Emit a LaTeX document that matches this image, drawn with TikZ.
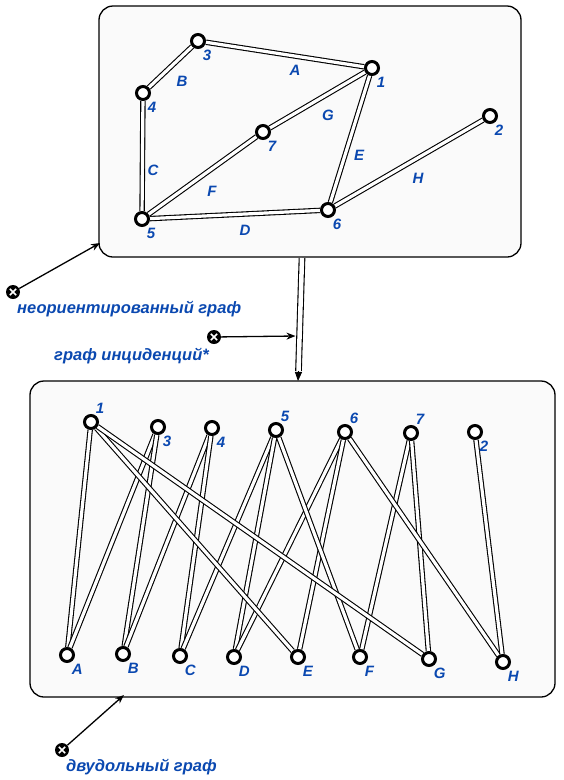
\documentclass[tikz,border=0pt]{standalone}
\usepackage{fontspec}
\setmainfont{Liberation Sans}
\usetikzlibrary{arrows.meta}
\definecolor{lblue}{HTML}{0A48B0}
\pgfdeclarelayer{bg}
\pgfdeclarelayer{edges}
\pgfsetlayers{bg,edges,main}
\tikzset{
    frame/.style = {draw, line width=1.3pt, rounded corners=14pt, fill=gray!4},
    vert/.style = {circle, draw, line width=3pt, fill=white, minimum size=13pt, inner sep=0pt},
    lbl/.style = {text=lblue, font=\fontsize{15}{17}\selectfont\bfseries\itshape, inner sep=0pt},
    vert-se/.style = {vert, label={[lbl, anchor=north west, xshift=-1pt, yshift=-3pt]south east:#1}},
    vert-ne/.style = {vert, label={[lbl, anchor=south west, xshift=-1pt, yshift=3pt]north east:#1}},
    link/.style = {line width=1.1pt, double=white, double distance=3.2pt},
    bar/.style = {line width=1.1pt, double=white, double distance=4.5pt},
    bartip/.style = {line width=0.8pt, -{Triangle[length=9pt,width=7pt]}},
    xdot/.style = {circle, fill=black, minimum size=14pt, inner sep=0pt,
        path picture={\draw[white, line width=1.5pt]
            ([shift={(-3.2pt,-3.2pt)}]path picture bounding box.center) -- ([shift={(3.2pt,3.2pt)}]path picture bounding box.center)
            ([shift={(-3.2pt,3.2pt)}]path picture bounding box.center) -- ([shift={(3.2pt,-3.2pt)}]path picture bounding box.center);}},
    pointer/.style = {line width=1.3pt, -{Stealth[length=9pt,width=7pt]}},
    caption/.style = {lbl, font=\fontsize{16.5}{19}\selectfont\bfseries\itshape, anchor=west},
}

\begin{document}
\begin{tikzpicture}[x=1pt, y=-1pt]
\useasboundingbox (0,0) rectangle (563,780);

% frames
\begin{pgfonlayer}{bg}
\draw[frame] (99,6) rectangle (521,257);
\draw[frame] (30,381) rectangle (555,697);
\end{pgfonlayer}

% undirected graph
\node[vert-se=3] (t3) at (198,41) {};
\node[vert-se=1] (t1) at (372,68) {};
\node[vert-se=4] (t4) at (143,93) {};
\node[vert-se=7] (t7) at (263,132) {};
\node[vert-se=2] (t2) at (490,116) {};
\node[vert-se=5] (t5) at (142,219) {};
\node[vert-se=6] (t6) at (328,210) {};

\begin{pgfonlayer}{edges}
\draw[link] (t3) -- (t1);
\draw[link] (t3) -- (t4);
\draw[link] (t4) -- (t5);
\draw[link] (t5) -- (t6);
\draw[link] (t1) -- (t6);
\draw[link] (t5) -- (t7);
\draw[link] (t7) -- (t1);
\draw[link] (t6) -- (t2);
\end{pgfonlayer}

\node[lbl] (eA) at (295,70) {A};
\node[lbl] (eB) at (182,81) {B};
\node[lbl] (eC) at (153,170) {C};
\node[lbl] (eD) at (245,230) {D};
\node[lbl] (eE) at (359,155) {E};
\node[lbl] (eF) at (212,191) {F};
\node[lbl] (eG) at (328,115) {G};
\node[lbl] (eH) at (418,178) {H};

% bipartite graph
\node[vert-ne=1] (b1) at (91,422) {};
\node[vert-se=3] (b3) at (158,427) {};
\node[vert-se=4] (b4) at (212,428) {};
\node[vert-ne=5] (b5) at (276,430) {};
\node[vert-ne=6] (b6) at (345,432) {};
\node[vert-ne=7] (b7) at (411,433) {};
\node[vert-se=2] (b2) at (475,432) {};

\node[vert-se=A] (bA) at (67,655) {};
\node[vert-se=B] (bB) at (123,654) {};
\node[vert-se=C] (bC) at (180,656) {};
\node[vert-se=D] (bD) at (234,657) {};
\node[vert-se=E] (bE) at (298,657) {};
\node[vert-se=F] (bF) at (360,657) {};
\node[vert-se=G] (bG) at (429,659) {};
\node[vert-se=H] (bH) at (503,662) {};

\begin{pgfonlayer}{edges}
\foreach \e/\u/\v in {A/1/3, B/3/4, C/4/5, D/5/6, E/1/6, F/5/7, G/7/1, H/6/2} {
    \draw[link] (b\e) -- (b\u);
    \draw[link] (b\e) -- (b\v);
}
\end{pgfonlayer}

% transition arrow
\coordinate (a1) at (302,258);
\coordinate (a2) at (298.5,371);
\coordinate (a3) at (298,381);
\draw[bar] (a1) -- (a2);
\draw[bartip] (a2) -- (a3);

% captions
\node[xdot] (m1) at (13,292) {};
\coordinate (c1) at (100,243);
\draw[pointer] (m1) -- (c1);
\node[caption] (n1) at (17,309) {неориентированный граф};

\node[xdot] (m2) at (214,337) {};
\coordinate (c2) at (295.5,336);
\draw[pointer] (m2) -- (c2);
\node[caption] (n2) at (54,356) {граф инциденций*};

\node[xdot] (m3) at (62,750) {};
\coordinate (c3) at (124,695);
\draw[pointer] (m3) -- (c3);
\node[caption] (n3) at (66,767) {двудольный граф};
\end{tikzpicture}
\end{document}
